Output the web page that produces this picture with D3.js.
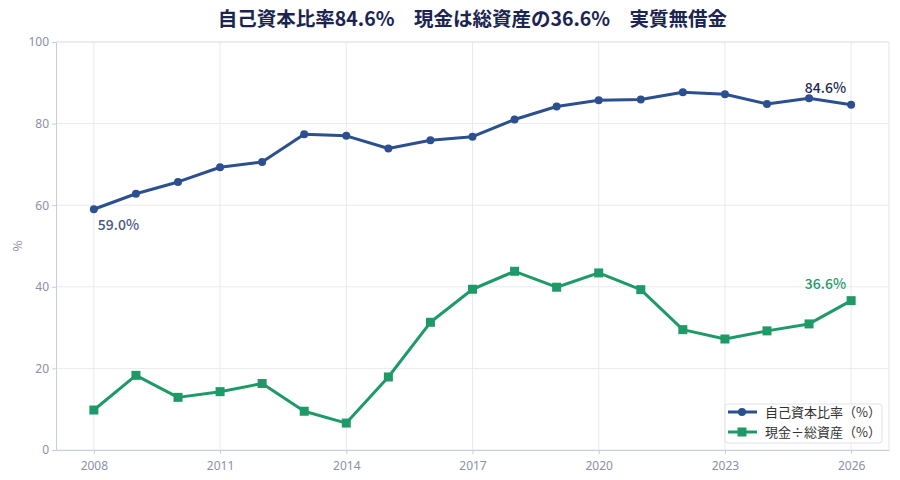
<!DOCTYPE html>
<html>
<head>
<meta charset="utf-8">
<script src="https://cdnjs.cloudflare.com/ajax/libs/d3/7.8.5/d3.min.js"></script>
<style>
  body { margin: 0; background: #fff; }
  text { font-family: "Noto Sans CJK JP", "Noto Sans", sans-serif; }
</style>
</head>
<body>
<div id="chart"></div>
<script>
// years and both series
var years = [2008, 2009, 2010, 2011, 2012, 2013, 2014, 2015, 2016, 2017,
             2018, 2019, 2020, 2021, 2022, 2023, 2024, 2025, 2026];
var equityRatio = [59.0, 62.8, 65.7, 69.3, 70.6, 77.4, 77.0, 73.9, 75.9, 76.8,
                   81.0, 84.2, 85.7, 85.9, 87.7, 87.2, 84.8, 86.2, 84.6];
var cashRatio = [9.8, 18.3, 12.9, 14.3, 16.3, 9.5, 6.6, 17.9, 31.3, 39.4,
                 43.8, 39.9, 43.4, 39.3, 29.5, 27.2, 29.2, 30.9, 36.6];
var xTicks = [2008, 2011, 2014, 2017, 2020, 2023, 2026];
var yTicks = [0, 20, 40, 60, 80, 100];
var seriesNames = ["自己資本比率（%）", "現金÷総資産（%）"];
var title = "自己資本比率84.6%　現金は総資産の36.6%　実質無借金";

var W = 900, H = 480;
var margin = {top: 42, right: 11, bottom: 30, left: 56};
var blue = "#2c4f8f", green = "#1e9a68";

var svg = d3.select("#chart").append("svg")
  .attr("width", W).attr("height", H);

var x = d3.scaleLinear().domain([2007.1, 2026.9]).range([margin.left, W - margin.right]);
var y = d3.scaleLinear().domain([0, 100]).range([H - margin.bottom, margin.top]);

// grid
svg.append("g").selectAll("line").data(yTicks).enter().append("line")
  .attr("x1", margin.left).attr("x2", W - margin.right)
  .attr("y1", function (d) { return y(d); }).attr("y2", function (d) { return y(d); })
  .attr("stroke", "#e8eaf0").attr("stroke-width", 1);
svg.append("g").selectAll("line").data(xTicks).enter().append("line")
  .attr("y1", margin.top).attr("y2", H - margin.bottom)
  .attr("x1", function (d) { return x(d); }).attr("x2", function (d) { return x(d); })
  .attr("stroke", "#e8eaf0").attr("stroke-width", 1);

// frame top/right
svg.append("path")
  .attr("d", "M" + margin.left + "," + margin.top + "H" + (W - margin.right) + "V" + (H - margin.bottom))
  .attr("fill", "none").attr("stroke", "#e3e5ec");

// axes
var xAxis = svg.append("g")
  .attr("transform", "translate(0," + (H - margin.bottom) + ")")
  .call(d3.axisBottom(x).tickValues(xTicks).tickFormat(d3.format("d")).tickSize(4).tickSizeOuter(0));
var yAxis = svg.append("g")
  .attr("transform", "translate(" + margin.left + ",0)")
  .call(d3.axisLeft(y).tickValues(yTicks).tickSize(4).tickSizeOuter(0));
[xAxis, yAxis].forEach(function (a) {
  a.select(".domain").attr("stroke", "#c9cdd9");
  a.selectAll(".tick line").attr("stroke", "#c9cdd9");
  a.selectAll(".tick text").attr("fill", "#8b90a8").style("font-size", "12px")
    .style("font-family", "'Noto Sans', sans-serif");
});
xAxis.selectAll(".tick text").attr("dy", "1.1em");

svg.append("text")
  .attr("transform", "translate(22," + ((margin.top + H - margin.bottom) / 2) + ") rotate(-90)")
  .attr("text-anchor", "middle").attr("fill", "#8b90a8").style("font-size", "12px")
  .text("%");

// title, centred over the plot area
svg.append("text")
  .attr("x", (margin.left + W - margin.right) / 2).attr("y", 26).attr("text-anchor", "middle")
  .attr("fill", "#1b2552").style("font-size", "19.5px").style("font-weight", "bold")
  .text(title);

var line = d3.line()
  .x(function (d, i) { return x(years[i]); })
  .y(function (d) { return y(d); });

svg.append("path").datum(equityRatio).attr("d", line)
  .attr("fill", "none").attr("stroke", blue).attr("stroke-width", 3).attr("stroke-linejoin", "round");
svg.append("g").selectAll("circle").data(equityRatio).enter().append("circle")
  .attr("cx", function (d, i) { return x(years[i]); })
  .attr("cy", function (d) { return y(d); })
  .attr("r", 4).attr("fill", blue);

svg.append("path").datum(cashRatio).attr("d", line)
  .attr("fill", "none").attr("stroke", green).attr("stroke-width", 3).attr("stroke-linejoin", "round");
svg.append("g").selectAll("rect").data(cashRatio).enter().append("rect")
  .attr("x", function (d, i) { return x(years[i]) - 4.5; })
  .attr("y", function (d) { return y(d) - 4.5; })
  .attr("width", 9).attr("height", 9).attr("fill", green);

// value labels
var last = years.length - 1;
svg.append("text")
  .attr("x", x(years[0]) + 4).attr("y", y(equityRatio[0]) + 21)
  .attr("fill", "#4a5880").style("font-size", "14px").style("font-weight", "500")
  .text(equityRatio[0].toFixed(1) + "%");
svg.append("text")
  .attr("x", x(years[last]) - 5).attr("y", y(equityRatio[last]) - 12)
  .attr("text-anchor", "end")
  .attr("fill", "#1d2850").style("font-size", "14px").style("font-weight", "500")
  .text(equityRatio[last].toFixed(1) + "%");
svg.append("text")
  .attr("x", x(years[last]) - 5).attr("y", y(cashRatio[last]) - 12)
  .attr("text-anchor", "end")
  .attr("fill", green).style("font-size", "14px").style("font-weight", "500")
  .text(cashRatio[last].toFixed(1) + "%");

// legend
var lg = svg.append("g").attr("transform", "translate(725,404)");
lg.append("rect").attr("width", 157).attr("height", 39).attr("rx", 3)
  .attr("fill", "#fff").attr("fill-opacity", 0.9).attr("stroke", "#dfe2ea");
[blue, green].forEach(function (c, i) {
  var yy = 8 + i * 20;
  lg.append("line").attr("x1", 3).attr("x2", 32).attr("y1", yy).attr("y2", yy)
    .attr("stroke", c).attr("stroke-width", 3);
  if (i === 0) {
    lg.append("circle").attr("cx", 17).attr("cy", yy).attr("r", 4).attr("fill", c);
  } else {
    lg.append("rect").attr("x", 12.5).attr("y", yy - 4.5).attr("width", 9).attr("height", 9).attr("fill", c);
  }
  lg.append("text").attr("x", 40).attr("y", yy + 4.5)
    .attr("fill", "#333").style("font-size", "13px")
    .text(seriesNames[i]);
});
</script>
</body>
</html>
